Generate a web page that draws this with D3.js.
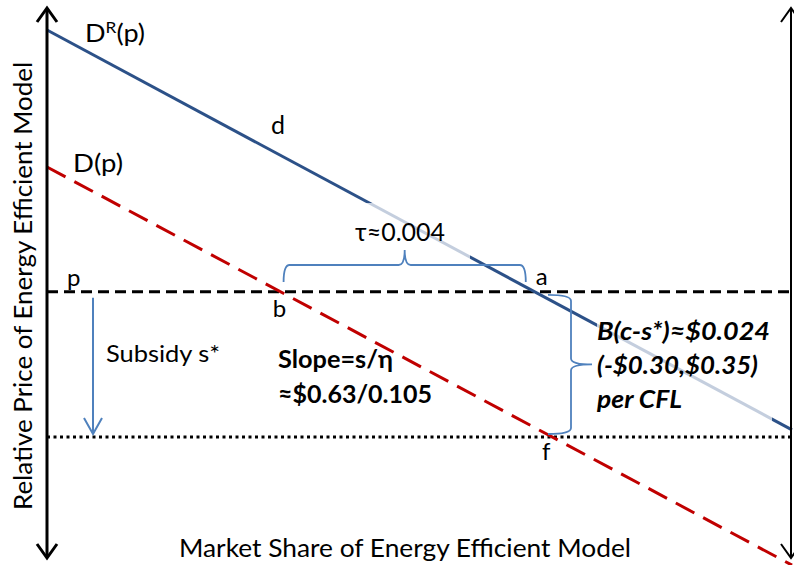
<!DOCTYPE html>
<html><head><meta charset="utf-8">
<script src="https://cdn.jsdelivr.net/npm/d3@7"></script>
<style>
html,body{margin:0;padding:0;background:#fff;}
svg text{font-family:Lato,"Open Sans",sans-serif;fill:#000;}
</style></head>
<body><svg id="chart" width="794" height="565"></svg>
<script>
// ---- data (market share 0..1, relative price 0..1) ----
const shareEnds = [0, 1];
const retailDemand = [0.960, 0.233];     // D^R(p)
const subsidyDemand = [0.711, -0.013];   // D(p)
const priceLevels = {p: 0.484, subsidized: 0.220};
const labels = {
  yTitle: "Relative Price of Energy Efficient Model",
  xTitle: "Market Share of Energy Efficient Model",
  tau: "τ≈0.004",
  slope: ["Slope=s/η", "≈$0.63/0.105"],
  bound: ["B(c-s*)≈$0.024", "(-$0.30,$0.35)", "per CFL"],
  subsidy: "Subsidy s*"
};
const dShare = 0.31;   // position of "d" label along D^R

const svg = d3.select("#chart");
const x = d3.scaleLinear().domain([0, 1]).range([47, 792]);
const y = d3.scaleLinear().domain([0, 1]).range([558, 8]);

const lineGen = d3.line().x(d => x(d[0])).y(d => y(d[1]));
const blueData = shareEnds.map((s, i) => [s, retailDemand[i]]);
const redData = shareEnds.map((s, i) => [s, subsidyDemand[i]]);
function shareAt(arr, price) { return (arr[0] - price) / (arr[0] - arr[1]); }
function priceAt(arr, s) { return arr[0] + (arr[1] - arr[0]) * s; }

const aS = shareAt(retailDemand, priceLevels.p);
const bS = shareAt(subsidyDemand, priceLevels.p);
const fS = shareAt(subsidyDemand, priceLevels.subsidized);

// horizontal price lines
svg.append("line").attr("x1", x(0)).attr("x2", x(1))
  .attr("y1", y(priceLevels.p)).attr("y2", y(priceLevels.p))
  .attr("stroke", "#000").attr("stroke-width", 3).attr("stroke-dasharray", "11,6");
svg.append("line").attr("x1", x(0)).attr("x2", x(1))
  .attr("y1", y(priceLevels.subsidized)).attr("y2", y(priceLevels.subsidized))
  .attr("stroke", "#000").attr("stroke-width", 3).attr("stroke-dasharray", "3,3.5");

// demand curves
svg.append("path").datum(redData).attr("d", lineGen).attr("fill", "none")
  .attr("stroke", "#c00000").attr("stroke-width", 3).attr("stroke-dasharray", "21,10");
svg.append("path").datum(blueData).attr("d", lineGen).attr("fill", "none")
  .attr("stroke", "#2c5188").attr("stroke-width", 3);

// semi-transparent text boxes (lighten the curve underneath)
svg.append("rect").attr("x", 345).attr("y", 203).attr("width", 125).attr("height", 57)
  .attr("fill", "#fff").attr("opacity", 0.72);
svg.append("rect").attr("x", 597).attr("y", 312).attr("width", 175).attr("height", 112)
  .attr("fill", "#fff").attr("opacity", 0.72);

// axes (double-headed arrows)
function vAxis(px, w) {
  const top = y(1), bot = y(0);
  svg.append("line").attr("x1", px).attr("x2", px).attr("y1", top + 1).attr("y2", bot - 1)
    .attr("stroke", "#000").attr("stroke-width", w);
  svg.append("path").attr("d", `M${px-10},${top+14}L${px},${top}L${px+10},${top+14}`)
    .attr("fill", "none").attr("stroke", "#000").attr("stroke-width", w);
  svg.append("path").attr("d", `M${px-10},${bot-14}L${px},${bot}L${px+10},${bot-14}`)
    .attr("fill", "none").attr("stroke", "#000").attr("stroke-width", w);
}
vAxis(x(0), 3);
vAxis(x(1) - 1, 2);

// braces
const braceCol = "#4f81bd";
function hBrace(x1, x2, y0, yb, yt) {
  const xm = (x1 + x2) / 2, r = 6;
  return `M${x1},${y0}Q${x1},${yb} ${x1+r},${yb}L${xm-r},${yb}Q${xm},${yb} ${xm},${yt}` +
         `Q${xm},${yb} ${xm+r},${yb}L${x2-r},${yb}Q${x2},${yb} ${x2},${y0}`;
}
function vBrace(y1, y2, x0, xb, xt) {
  const ym = (y1 + y2) / 2, r = 6;
  return `M${x0},${y1}Q${xb},${y1} ${xb},${y1+r}L${xb},${ym-r}Q${xb},${ym} ${xt},${ym}` +
         `Q${xb},${ym} ${xb},${ym+r}L${xb},${y2-r}Q${xb},${y2} ${x0},${y2}`;
}
svg.append("path").attr("d", hBrace(x(bS) + 3, x(aS) - 9, 282, 265, 250))
  .attr("fill", "none").attr("stroke", braceCol).attr("stroke-width", 1.8);
svg.append("path").attr("d", vBrace(y(priceLevels.p) + 3, y(priceLevels.subsidized) - 3, 548, 571, 592))
  .attr("fill", "none").attr("stroke", braceCol).attr("stroke-width", 1.8);

// subsidy arrow
const ax = 93, ay1 = y(priceLevels.p) + 6, ay2 = y(priceLevels.subsidized) - 3;
svg.append("line").attr("x1", ax).attr("x2", ax).attr("y1", ay1).attr("y2", ay2)
  .attr("stroke", braceCol).attr("stroke-width", 2);
svg.append("path").attr("d", `M${ax-9},${ay2-16}L${ax},${ay2}L${ax+9},${ay2-16}`)
  .attr("fill", "none").attr("stroke", braceCol).attr("stroke-width", 2);

// text
function txt(t, px, py, opts = {}) {
  const e = svg.append("text").attr("x", px).attr("y", py).text(t)
    .attr("font-size", opts.size || 25);
  if (opts.weight) e.attr("font-weight", opts.weight);
  if (opts.style) e.attr("font-style", opts.style);
  if (opts.anchor) e.attr("text-anchor", opts.anchor);
  if (opts.len) e.attr("textLength", opts.len).attr("lengthAdjust", "spacingAndGlyphs");
  return e;
}
// D^R(p)
const dr = svg.append("text").attr("x", 85).attr("y", 42).attr("font-size", 25)
  .attr("textLength", 60).attr("lengthAdjust", "spacingAndGlyphs");
dr.append("tspan").text("D");
dr.append("tspan").text("R").attr("font-size", 16).attr("dy", -9);
dr.append("tspan").text("(p)").attr("dy", 9);
txt("D(p)", 73, 172, {size: 25, len: 50});
txt("d", x(dShare), y(priceAt(retailDemand, dShare)) - 20, {size: 25, anchor: "middle"});
txt("a", x(aS) + 7, y(priceLevels.p) - 7, {size: 24, anchor: "middle"});
txt("b", x(bS) - 1, y(priceLevels.p) + 25, {size: 24, anchor: "middle"});
txt("f", x(fS) - 6, y(priceLevels.subsidized) + 23, {size: 24, anchor: "middle"});
txt("p", 67, 286, {size: 24});
txt(labels.subsidy, 106, 362, {size: 24, len: 114});
txt(labels.tau, 355, 241, {size: 25, len: 90});
txt(labels.slope[0], 278, 368, {size: 25, weight: "bold", len: 115});
txt(labels.slope[1], 278, 403, {size: 25, weight: "bold", len: 154});
txt(labels.bound[0], 597, 340, {size: 25, weight: "bold", style: "italic", len: 173});
txt(labels.bound[1], 597, 374, {size: 25, weight: "bold", style: "italic", len: 161});
txt(labels.bound[2], 597, 408, {size: 25, weight: "bold", style: "italic", len: 85});
txt(labels.xTitle, 405, 557, {size: 25, anchor: "middle", len: 452});
svg.append("text").attr("transform", "translate(32,286) rotate(-90)")
  .attr("text-anchor", "middle").attr("font-size", 25)
  .attr("textLength", 448).attr("lengthAdjust", "spacingAndGlyphs")
  .text(labels.yTitle);
</script></body></html>
